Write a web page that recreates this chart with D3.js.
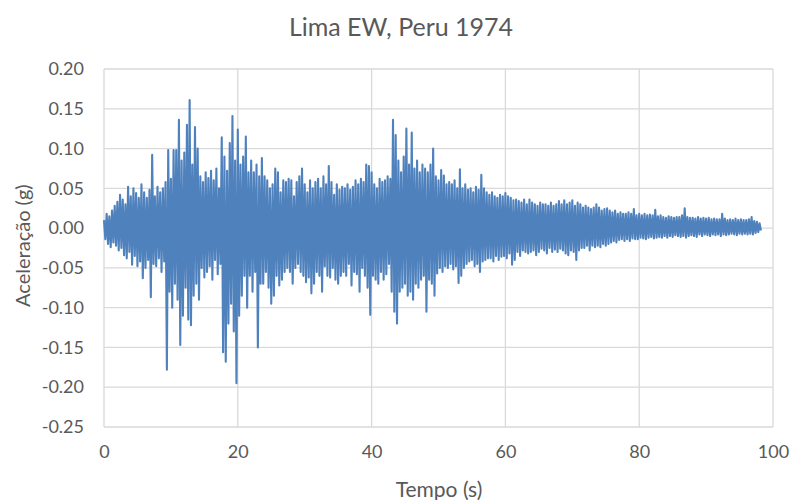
<!DOCTYPE html>
<html>
<head>
<meta charset="utf-8">
<script src="https://cdn.jsdelivr.net/npm/d3@7/dist/d3.min.js"></script>
<style>
  html, body { margin: 0; padding: 0; background: #ffffff; }
  svg { display: block; }
  text { font-family: Lato, "Open Sans", sans-serif; fill: #595959; }
</style>
</head>
<body>
<svg id="chart" width="792" height="500"></svg>
<script>
// Lima EW component, Peru 1974 earthquake — ground acceleration record
const chartTitle = "Lima EW, Peru 1974";
const xAxisTitle = "Tempo (s)";
const yAxisTitle = "Aceleração (g)";

// sampling interval of the record (s)
const dt = 0.2;

// acceleration samples in thousandths of g, roughly 2 s per row
const accMilliG = [
  10,-14,18,-20,15,-24,22,-18,28,-22,
  33,-28,42,-25,36,-34,30,-38,52,-30,
  40,-46,50,-35,44,-48,38,-42,55,-63,
  45,-50,38,-40,48,-87,92,-45,40,
  -48,52,-38,45,-55,50,-42,58,-178,98,
  -80,62,-100,98,-70,98,-90,136,-147,85,
  -110,95,-75,130,-115,161,-122,80,-85,127,
  -70,100,-90,65,-50,58,-62,70,-55,63,
  -48,72,-65,60,-40,75,-58,50,-45,114,
  -156,90,-168,72,-120,107,-95,141,-130,85,
  -195,124,-110,80,-85,90,-60,115,-100,70,
  -60,85,-80,70,-55,80,-150,65,-70,88,
  -70,65,-55,60,-75,50,-95,55,-85,75,
  -60,70,-72,45,-65,60,-55,58,-50,62,
  -55,60,-70,40,-50,58,-45,65,-55,75,
  -60,55,-68,45,-62,60,-82,50,-70,58,
  -55,62,-60,50,-80,65,-48,55,-60,78,
  -62,58,-50,42,-65,55,-70,48,-60,52,
  -55,50,-60,55,-45,48,-72,52,-55,60,
  -58,55,-80,62,-50,58,-60,80,-75,78,
  -109,70,-60,55,-65,50,-70,62,-55,58,
  -65,60,-58,65,-45,62,-80,136,-105,117,
  -120,85,-80,70,-75,90,-70,125,-85,80,
  -80,120,-90,75,-70,85,-75,70,-65,80,
  -60,75,-105,70,-65,80,-70,100,-85,65,
  -57,60,-50,73,-55,66,-48,55,-50,58,
  -45,55,-52,60,-48,50,-69,74,-60,50,
  -50,55,-45,48,-42,50,-40,45,-48,52,
  -45,48,-55,67,-42,50,-40,45,-38,42,
  -38,45,-42,40,-35,38,-40,42,-36,40,
  -35,44,-38,40,-32,38,-46,35,-40,36,
  -30,34,-35,32,-28,36,-30,30,-32,36,
  -30,32,-28,30,-34,28,-30,32,-26,30,
  -28,30,-32,28,-25,32,-30,28,-27,30,
  -30,34,-26,30,-28,35,-32,30,-34,32,
  -28,35,-30,28,-40,32,-28,30,-25,26,
  -25,28,-22,26,-28,24,-22,26,-24,30,
  -22,26,-24,22,-20,24,-22,25,-20,22,
  -18,20,-16,22,-18,18,-15,20,-14,18,
  -16,18,-14,20,-16,18,-13,24,-14,16,
  -14,18,-12,16,-13,18,-14,16,-12,17,
  -11,16,-13,23,-12,15,-11,16,-12,14,
  -10,13,-12,15,-10,14,-11,13,-9,14,
  -10,14,-11,16,-10,25,-12,14,-10,13,
  -9,13,-10,12,-11,14,-8,12,-10,13,
  -8,12,-9,13,-10,11,-8,12,-9,11,
  -8,11,-10,18,-8,12,-9,10,-8,11,
  -7,10,-8,12,-9,10,-7,11,-8,10,
  -7,10,-8,11,-7,14,-8,9,-6,8,
  -5,6,-3
];

const xTicks = [0, 20, 40, 60, 80, 100];
const yTicks = [-0.25, -0.20, -0.15, -0.10, -0.05, 0.00, 0.05, 0.10, 0.15, 0.20];

const record = accMilliG.map((v, i) => ({ t: i * dt, a: v / 1000 }));

const svg = d3.select("#chart");
const margin = { left: 104, right: 19, top: 69, bottom: 73 };
const W = 792, H = 500;

const x = d3.scaleLinear().domain([0, 100]).range([margin.left, W - margin.right]);
const y = d3.scaleLinear().domain([-0.25, 0.20]).range([H - margin.bottom, margin.top]);

// gridlines
const grid = svg.append("g");
grid.selectAll("line.h").data(yTicks).join("line")
  .attr("x1", x(0)).attr("x2", x(100))
  .attr("y1", d => y(d)).attr("y2", d => y(d))
  .attr("stroke", "#d9d9d9").attr("stroke-width", 1.3);
grid.selectAll("line.v").data(xTicks).join("line")
  .attr("y1", y(-0.25)).attr("y2", y(0.20))
  .attr("x1", d => x(d)).attr("x2", d => x(d))
  .attr("stroke", "#d9d9d9").attr("stroke-width", 1.3);

// axes (labels only; lines come from the grid)
const fmt2 = d3.format(".2f");
const xAxis = d3.axisBottom(x).tickValues(xTicks).tickSize(0).tickPadding(18).tickFormat(d3.format("d"));
const yAxis = d3.axisLeft(y).tickValues(yTicks).tickSize(0).tickPadding(20)
  .tickFormat(d => fmt2(d).replace("\u2212", "-"));

const gx = svg.append("g").attr("transform", `translate(0,${y(-0.25)})`).call(xAxis);
const gy = svg.append("g").attr("transform", `translate(${x(0)},0)`).call(yAxis);
[gx, gy].forEach(g => {
  g.select(".domain").remove();
  g.selectAll("text").style("font-family", "Lato, 'Open Sans', sans-serif")
    .style("font-size", "18px").attr("fill", "#595959");
});

// acceleration trace
const line = d3.line().x(d => x(d.t)).y(d => y(d.a));
svg.append("path").datum(record)
  .attr("d", line)
  .attr("fill", "none")
  .attr("stroke", "#4f81bd")
  .attr("stroke-width", 2.1)
  .attr("stroke-linejoin", "round");

// titles
svg.append("text").attr("x", 401).attr("y", 36).attr("text-anchor", "middle")
  .style("font-size", "25px").text(chartTitle);
svg.append("text").attr("x", 439).attr("y", 497).attr("text-anchor", "middle")
  .style("font-size", "21px").text(xAxisTitle);
svg.append("text").attr("transform", `translate(30,${y(-0.022)}) rotate(-90)`)
  .attr("text-anchor", "middle")
  .style("font-size", "20px").text(yAxisTitle);
</script>
</body>
</html>
